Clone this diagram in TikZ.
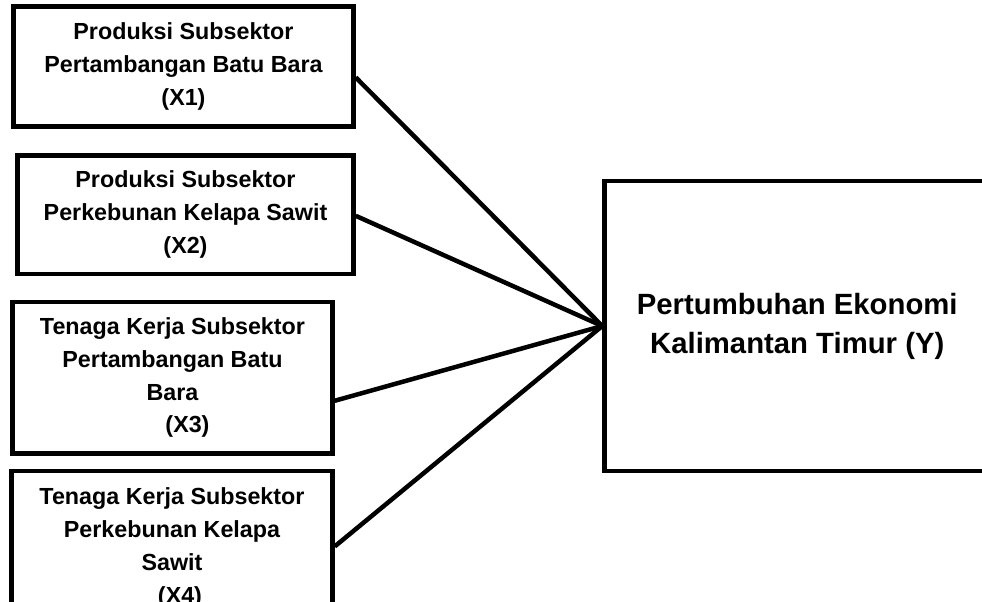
\documentclass[tikz,border=0pt]{standalone}
\usepackage{fontspec}
\setmainfont{Liberation Sans}
\usetikzlibrary{calc}
\tikzset{
  varbox/.style={draw=black, line width=4.5pt, rectangle, inner sep=0pt,
    align=center, font=\bfseries\fontsize{23.3}{32.8}\selectfont},
  ybox/.style={varbox, font=\bfseries\fontsize{29.3}{39}\selectfont},
  link/.style={draw=black, line width=4.5pt}
}
\begin{document}
\begin{tikzpicture}[x=1pt,y=-1pt]
\useasboundingbox (0,0) rectangle (982,602);
\fill[white] (0,0) rectangle (982,602);
\clip (0,0) rectangle (982,602);

\node[varbox, minimum width=340pt, minimum height=120pt] (b1) at (183.5,66.7)
  {Produksi Subsektor\\Pertambangan Batu Bara\\(X1)};
\node[varbox, minimum width=336pt, minimum height=118.3pt] (b2) at (185.5,214.6)
  {Produksi Subsektor\\Perkebunan Kelapa Sawit\\(X2)};
\node[varbox, minimum width=320pt, minimum height=151.3pt] (b3) at (172.5,377.7)
  {Tenaga Kerja Subsektor\\Pertambangan Batu\\Bara\\\hspace*{30pt}(X3)};
\node[varbox, minimum width=321pt, minimum height=154pt] (b4) at (172,548)
  {Tenaga Kerja Subsektor\\Perkebunan Kelapa\\Sawit\\\hspace*{16pt}(X4)};
\node[ybox, minimum width=385.5pt, minimum height=290pt] (y) at (797.25,326)
  {Pertumbuhan Ekonomi\\Kalimantan Timur (Y)};

\coordinate (s1) at ($(b1.north east)!0.586!(b1.south east)$);
\coordinate (s2) at ($(b2.north east)!0.51!(b2.south east)$);
\coordinate (s3) at ($(b3.north east)!0.648!(b3.south east)$);
\coordinate (s4) at ($(b4.north east)!0.49!(b4.south east)$);

\draw[link] (s1) -- (y.west);
\draw[link] (s2) -- (y.west);
\draw[link] (s3) -- (y.west);
\draw[link] (s4) -- (y.west);
\end{tikzpicture}
\end{document}
